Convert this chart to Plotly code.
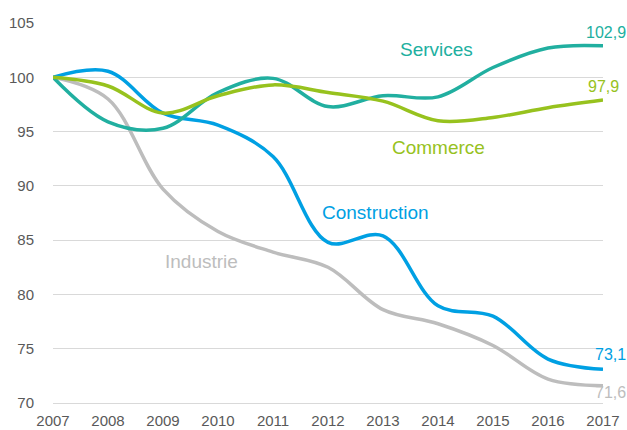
import plotly.graph_objects as go

years = [2007, 2008, 2009, 2010, 2011, 2012, 2013, 2014, 2015, 2016, 2017]
services = [100, 95.9, 95.3, 98.6, 99.9, 97.3, 98.3, 98.2, 100.9, 102.7, 102.9]
commerce = [100, 99.2, 96.7, 98.3, 99.3, 98.6, 97.8, 96.0, 96.3, 97.2, 97.9]
construction = [100, 100.55, 96.7, 95.6, 92.7, 84.8, 85.4, 78.95, 78.0, 74.05, 73.1]
industrie = [100, 98.0, 89.7, 85.8, 83.9, 82.5, 78.6, 77.3, 75.3, 72.2, 71.6]

y_ticks = [70, 75, 80, 85, 90, 95, 100, 105]

C_SERV = "#21AFA0"
C_COMM = "#97C21E"
C_CONS = "#00A0E3"
C_IND = "#BDBDBD"

FONT = "Liberation Sans, Arial, sans-serif"

fig = go.Figure()
for name, vals, col in [("Industrie", industrie, C_IND),
                        ("Construction", construction, C_CONS),
                        ("Services", services, C_SERV),
                        ("Commerce", commerce, C_COMM)]:
    fig.add_trace(go.Scatter(x=years, y=vals, mode="lines", name=name,
                             line=dict(color=col, width=3.5, shape="spline", smoothing=1),
                             hoverinfo="skip", cliponaxis=False))

labels = [
    ("Services", 2013.97, 102.55, C_SERV),
    ("Commerce", 2014.0, 93.55, C_COMM),
    ("Construction", 2012.87, 87.55, C_CONS),
    ("Industrie", 2009.70, 83.0, C_IND),
]
for txt, x, y, col in labels:
    fig.add_annotation(x=x, y=y, text=txt, showarrow=False,
                       font=dict(family=FONT, size=19, color=col),
                       xanchor="center", yanchor="middle")

end_labels = [
    ("102,9", 104.15, C_SERV, 3),
    ("97,9", 99.15, C_COMM, 0),
    ("73,1", 74.44, C_CONS, 7),
    ("71,6", 70.93, C_IND, 7),
]
for txt, y, col, dx in end_labels:
    fig.add_annotation(x=2017, y=y, text=txt, showarrow=False,
                       font=dict(family=FONT, size=16, color=col),
                       xanchor="center", yanchor="middle", xshift=dx)

fig.update_layout(
    width=627, height=430,
    margin=dict(l=53, r=24, t=23, b=27),
    paper_bgcolor="white", plot_bgcolor="white",
    showlegend=False, hovermode=False,
    font=dict(family=FONT, size=15, color="#595959"),
)
fig.update_xaxes(range=[2007, 2017], tickmode="array", tickvals=years,
                 ticktext=[str(y) for y in years], showgrid=False,
                 showline=True, linecolor="#D9D9D9", linewidth=1,
                 ticks="", ticklabelstandoff=4,
                 zeroline=False, automargin=False,
                 tickfont=dict(family=FONT, size=15, color="#595959"))
fig.update_yaxes(range=[70, 105], tickmode="array", tickvals=y_ticks,
                 showgrid=True, gridcolor="#D9D9D9", gridwidth=1,
                 zeroline=False, showline=False, ticks="outside",
                 ticklen=15, tickcolor="rgba(0,0,0,0)", automargin=False,
                 tickfont=dict(family=FONT, size=15, color="#595959"))

fig.write_html("out.html", config={"displayModeBar": False},
               post_script="document.body.style.margin='0';document.body.style.overflow='hidden';")
